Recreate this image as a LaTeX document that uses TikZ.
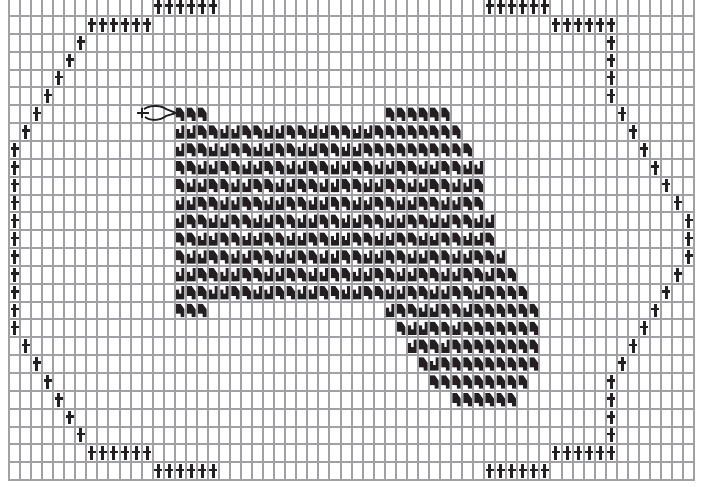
\documentclass[tikz,border=0pt]{standalone}
\usetikzlibrary{calc}
\definecolor{gridgrey}{RGB}{160,161,165}
\definecolor{inkblack}{RGB}{35,31,32}
\tikzset{
  gridline/.style={draw=gridgrey, line width=0.5mm},
  purl/.pic={
    \fill[inkblack] (-1.5,-7) rectangle (1.5,6.8);
    \fill[inkblack] (-4,-2.6) rectangle (4,-0.1);
  },
  cablea/.pic={
    \fill[inkblack] (-4.2,-6.6) -- (0.3,-6.6) -- (4.2,-1.2) -- (4.2,6.6) -- (0.3,6.6)
      -- (0.3,3.2) -- (-4.2,3.2) -- cycle;
  },
  cableb/.pic={
    \fill[inkblack] (-4.2,-3) -- (-1.2,-3) -- (-1.2,1) -- (1.2,1) -- (1.2,-6.6) -- (4.2,-6.6)
      -- (4.2,6.6) -- (-4.2,6.6) -- cycle;
  },
}
\begin{document}
\begin{tikzpicture}[x=0.25mm, y=-0.25mm]
\useasboundingbox (0,0) rectangle (703,487);
\fill[white] (0,0) rectangle (703,487);
% grid
\foreach \c in {0,...,62}
  \draw[gridline] ({9+11.05*\c},-3) -- ({9+11.05*\c},481.1);
\foreach \r in {0,...,26}
  \draw[gridline] (8,{16+17.85*\r}) -- (695.1,{16+17.85*\r});
% outline of purl stitches
\foreach \c/\r in {13/0,14/0,15/0,16/0,17/0,18/0,43/0,44/0,45/0,46/0,47/0,48/0,
  7/1,8/1,9/1,10/1,11/1,12/1,49/1,50/1,51/1,52/1,53/1,54/1,
  13/26,14/26,15/26,16/26,17/26,18/26,43/26,44/26,45/26,46/26,47/26,48/26,
  7/25,8/25,9/25,10/25,11/25,12/25,49/25,50/25,51/25,52/25,53/25,54/25}
  \pic at ({9+11.05*(\c+0.5)},{16+17.85*(\r-0.5)}) {purl};
\foreach \r in {2,...,7}
  \pic at ({9+11.05*(8-\r+0.5)},{16+17.85*(\r-0.5)}) {purl};
\foreach \r in {19,...,24}
  \pic at ({9+11.05*(\r-18+0.5)},{16+17.85*(\r-0.5)}) {purl};
\foreach \r in {8,...,18}
  \pic at ({9+11.05*0.5},{16+17.85*(\r-0.5)}) {purl};
\foreach \r in {2,...,5,21,22,23,24}
  \pic at ({9+11.05*54.5},{16+17.85*(\r-0.5)}) {purl};
\foreach \r in {6,...,12}
  \pic at ({9+11.05*(49+\r+0.5)},{16+17.85*(\r-0.5)}) {purl};
\foreach \r in {14,...,20}
  \pic at ({9+11.05*(75-\r+0.5)},{16+17.85*(\r-0.5)}) {purl};
\pic at ({9+11.05*61.5},{16+17.85*12.5}) {purl};
% cable block
\foreach \r/\a/\b in {6/15/17,6/34/39,7/15/40,8/15/41,9/15/42,10/15/42,11/15/42,
  12/15/43,13/15/43,14/15/44,15/15/45,16/15/46,17/15/17,17/34/47,18/35/47,
  19/36/47,20/37/47,21/38/46,22/40/45}
  \foreach \c in {\a,...,\b}{
    \pgfmathtruncatemacro{\k}{(mod(\c+\r,4)>=2) && (\c+\r<59) && !((\r<=8) && (\c>=34))
      && ((\c>=18) || ((\r>=7) && (\r<=16)))}
    \ifnum\k=0
      \pic at ({9+11.05*(\c+0.5)},{16+17.85*(\r-0.5)}) {cablea};
    \else
      \pic at ({9+11.05*(\c+0.5)},{16+17.85*(\r-0.5)}) {cableb};
    \fi
  };
% bobble
\draw[inkblack, line width=0.45mm] (144,109) .. controls (152,104) and (162,106) .. (166,109)
  -- (176,113) -- (166,116) .. controls (160,121) and (150,121) .. (145,117);
\draw[inkblack, line width=0.6mm] (137,113) -- (149,113);
\draw[inkblack, line width=0.6mm] (142,108) -- (142,118);
\end{tikzpicture}
\end{document}
